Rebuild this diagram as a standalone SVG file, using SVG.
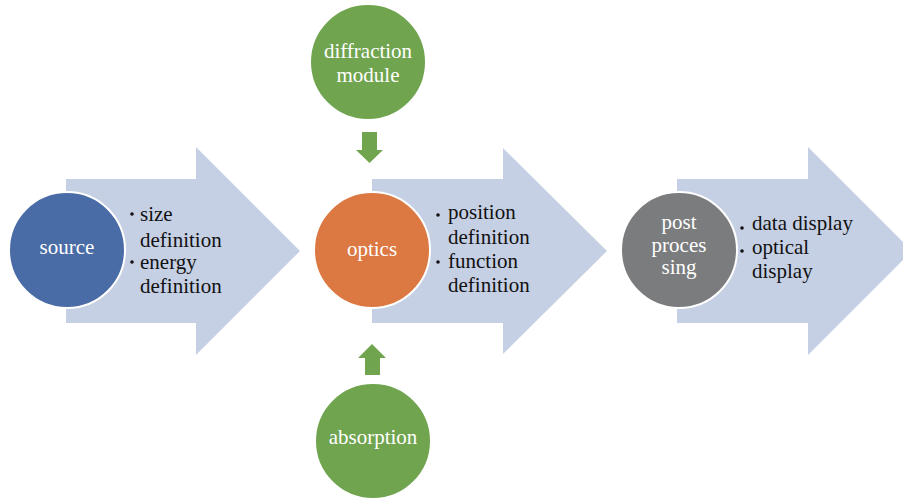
<svg xmlns="http://www.w3.org/2000/svg" width="903" height="499" viewBox="0 0 903 499">
<style>
.band{fill:#c6d0e4}
.circ{stroke:#ffffff;stroke-width:2}
.lbl{fill:#ffffff;text-anchor:middle}
.txt{fill:#111111}
.dot{fill:#111111}
.garrow{fill:#70a44f}
</style>
<rect width="903" height="499" fill="#ffffff"/>
<g font-family="Liberation Serif, DejaVu Serif, Times New Roman, serif" font-size="21">
<g id="source">
<polygon class="band" points="66,179 196,179 196,147 300,251 196,355 196,323 66,323"/>
<circle class="circ" cx="67" cy="250" r="58" fill="#4a6ca6"/>
<text class="lbl" x="67" y="254">source</text>
<circle class="dot" cx="132" cy="214" r="1.8"/>
<text class="txt" x="140" y="221">size</text>
<text class="txt" x="140" y="247">definition</text>
<circle class="dot" cx="132" cy="262" r="1.8"/>
<text class="txt" x="140" y="269">energy</text>
<text class="txt" x="140" y="293">definition</text>
</g>
<g id="optics">
<polygon class="band" points="372,179 503,179 503,148 607,251 503,354 503,323 372,323"/>
<circle class="circ" cx="372" cy="250" r="58" fill="#dc7842"/>
<text class="lbl" x="372" y="256">optics</text>
<circle class="dot" cx="438" cy="215" r="1.8"/>
<text class="txt" x="448" y="219">position</text>
<text class="txt" x="448" y="244">definition</text>
<circle class="dot" cx="438" cy="262" r="1.8"/>
<text class="txt" x="448" y="268">function</text>
<text class="txt" x="448" y="292">definition</text>
</g>
<g id="postprocessing">
<polygon class="band" points="677,179 808,179 808,147 912,251 808,355 808,323 677,323"/>
<circle class="circ" cx="679" cy="250" r="58" fill="#7b7c7e"/>
<text class="lbl" x="679" y="229">post</text>
<text class="lbl" x="679" y="252">proces</text>
<text class="lbl" x="679" y="274">sing</text>
<circle class="dot" cx="742" cy="228" r="1.8"/>
<text class="txt" x="752" y="230">data display</text>
<circle class="dot" cx="742" cy="251" r="1.8"/>
<text class="txt" x="752" y="254">optical</text>
<text class="txt" x="752" y="278">display</text>
</g>
<g id="diffraction">
<circle class="circ" cx="368" cy="62" r="58" fill="#70a44f"/>
<text class="lbl" x="368" y="58">diffraction</text>
<text class="lbl" x="368" y="82">module</text>
</g>
<g id="absorption">
<circle class="circ" cx="373" cy="441" r="58" fill="#70a44f"/>
<text class="lbl" x="373" y="444">absorption</text>
</g>
</g>
<g id="connectors">
<polygon class="garrow" points="362,132 377,132 377,150 383,150 369.5,163 356,150 362,150"/>
<polygon class="garrow" points="365,375 380,375 380,358 386,358 372,344 358,358 365,358"/>
</g>
</svg>
